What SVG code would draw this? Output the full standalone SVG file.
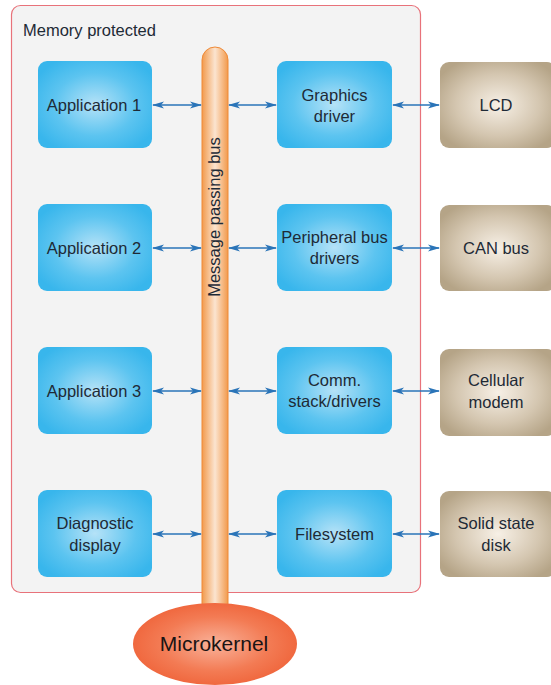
<svg xmlns="http://www.w3.org/2000/svg" width="551" height="685" viewBox="0 0 551 685">
<defs>
<radialGradient id="gBlue" cx="50%" cy="50%" r="60%">
<stop offset="0" stop-color="#b5e2f7"/>
<stop offset="0.6" stop-color="#5cc4f0"/>
<stop offset="1" stop-color="#38b6ec"/>
</radialGradient>
<radialGradient id="gBrown" cx="50%" cy="50%" r="60%">
<stop offset="0" stop-color="#f7f0e6"/>
<stop offset="0.6" stop-color="#d4c6b0"/>
<stop offset="1" stop-color="#b5a487"/>
</radialGradient>
<radialGradient id="gRed" cx="50%" cy="50%" r="55%">
<stop offset="0" stop-color="#f9b29a"/>
<stop offset="0.6" stop-color="#f37b54"/>
<stop offset="1" stop-color="#ef6339"/>
</radialGradient>
<linearGradient id="gBus" x1="0" y1="0" x2="1" y2="0">
<stop offset="0" stop-color="#f29a4c"/>
<stop offset="0.5" stop-color="#fbe4d0"/>
<stop offset="1" stop-color="#f29a4c"/>
</linearGradient>
<marker id="ah" viewBox="0 0 12 8" refX="11" refY="4" markerWidth="12" markerHeight="8" markerUnits="userSpaceOnUse" orient="auto-start-reverse">
<path d="M0,0.5 L12,4 L0,7.5 L3,4 z" fill="#2a74b8"/>
</marker>
<style>
.lbl{font-family:"Liberation Sans",Arial,sans-serif;font-size:16.5px;fill:#1e2a36;text-anchor:middle}
.blue{fill:url(#gBlue)}
.brown{fill:url(#gBrown)}
.con line{stroke:#2a74b8;stroke-width:1.4;marker-start:url(#ah);marker-end:url(#ah)}
</style>
</defs>
<rect width="551" height="685" fill="#ffffff"/>
<g id="memory-protected">
<rect x="11.5" y="5.5" width="409" height="587" rx="9" fill="#f3f3f3" stroke="#e8727a" stroke-width="1.2"/>
<text x="23" y="36" class="lbl" style="text-anchor:start">Memory protected</text>
</g>
<g id="bus">
<path d="M202,605 L202,60 A13,13 0 0 1 228,60 L228,605 Z" fill="url(#gBus)" stroke="#ef8a38" stroke-width="1"/>
<text class="lbl" transform="translate(220,217) rotate(-90)">Message passing bus</text>
</g>
<g id="microkernel">
<ellipse cx="215" cy="644" rx="82" ry="41" fill="url(#gRed)"/>
<text x="214" y="651" class="lbl" style="font-size:21px;fill:#1a1414">Microkernel</text>
</g>
<g id="app1"><rect x="38" y="61" width="114" height="87" rx="9" class="blue"/><text x="94" y="111" class="lbl">Application 1</text></g>
<g id="app2"><rect x="38" y="204" width="114" height="87" rx="9" class="blue"/><text x="94" y="254" class="lbl">Application 2</text></g>
<g id="app3"><rect x="38" y="347" width="114" height="87" rx="9" class="blue"/><text x="94" y="397" class="lbl">Application 3</text></g>
<g id="diag"><rect x="38" y="490" width="114" height="87" rx="9" class="blue"/><text x="95" y="529" class="lbl">Diagnostic</text><text x="95" y="551" class="lbl">display</text></g>
<g id="graphics"><rect x="277" y="61" width="115" height="87" rx="9" class="blue"/><text x="334.5" y="101" class="lbl">Graphics</text><text x="334.5" y="122" class="lbl">driver</text></g>
<g id="periph"><rect x="277" y="204" width="115" height="87" rx="9" class="blue"/><text x="334.5" y="243" class="lbl">Peripheral bus</text><text x="334.5" y="264" class="lbl">drivers</text></g>
<g id="comm"><rect x="277" y="347" width="115" height="87" rx="9" class="blue"/><text x="334.5" y="386" class="lbl">Comm.</text><text x="334.5" y="407" class="lbl">stack/drivers</text></g>
<g id="fs"><rect x="277" y="490" width="115" height="87" rx="9" class="blue"/><text x="334.5" y="540" class="lbl">Filesystem</text></g>
<g id="lcd"><rect x="440" y="62" width="116" height="86" rx="9" class="brown"/><text x="496" y="111" class="lbl">LCD</text></g>
<g id="can"><rect x="440" y="205" width="116" height="86" rx="9" class="brown"/><text x="496" y="254" class="lbl">CAN bus</text></g>
<g id="cell"><rect x="440" y="349" width="116" height="87" rx="9" class="brown"/><text x="496" y="386" class="lbl">Cellular</text><text x="496" y="408" class="lbl">modem</text></g>
<g id="ssd"><rect x="440" y="491" width="116" height="86" rx="9" class="brown"/><text x="496" y="529" class="lbl">Solid state</text><text x="496" y="551" class="lbl">disk</text></g>
<g id="connectors" class="con">
<line x1="153" y1="105" x2="201" y2="105"/>
<line x1="229" y1="105" x2="276" y2="105"/>
<line x1="393" y1="105" x2="439" y2="105"/>
<line x1="153" y1="248" x2="201" y2="248"/>
<line x1="229" y1="248" x2="276" y2="248"/>
<line x1="393" y1="248" x2="439" y2="248"/>
<line x1="153" y1="391" x2="201" y2="391"/>
<line x1="229" y1="391" x2="276" y2="391"/>
<line x1="393" y1="391" x2="439" y2="391"/>
<line x1="153" y1="534" x2="201" y2="534"/>
<line x1="229" y1="534" x2="276" y2="534"/>
<line x1="393" y1="534" x2="439" y2="534"/>
</g>
</svg>
